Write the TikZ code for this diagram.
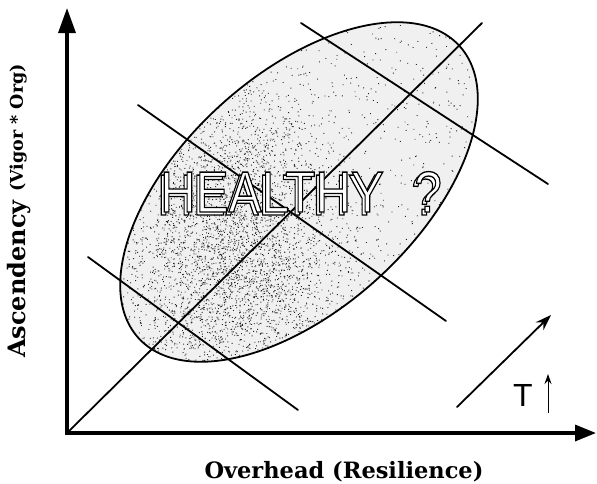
\documentclass[tikz,border=0pt]{standalone}
\usepackage{fontspec}
\newfontfamily\sansf{Liberation Sans}
\newfontfamily\labf{DejaVu Serif}
\usetikzlibrary{arrows.meta}
\newcommand{\outlined}[2]{\special{pdf:literal direct 0 G #1 w 2 Tr}#2\special{pdf:literal direct 0 Tr}}
\begin{document}
\begin{tikzpicture}[x=1pt,y=-1pt,
  axis/.style={line width=3.4pt,{Triangle[length=25pt,width=17pt]}-{Triangle[length=21pt,width=16pt]}},
  ln/.style={line width=1.8pt,line cap=round},
  ell/.style={line width=1.8pt},
  dot/.style={fill=black!85},
  lab/.style={font=\labf\bfseries\fontsize{22.5}{24}\selectfont,inner sep=0pt},
  laby/.style={font=\labf\bfseries\fontsize{24}{26}\selectfont,inner sep=0pt},
  labsmall/.style={font=\labf\bfseries\fontsize{17.5}{20}\selectfont,inner sep=0pt},
  big/.style={font=\sansf\fontsize{58}{60}\selectfont,xscale=0.85,inner sep=0pt},
  tlab/.style={font=\sansf\fontsize{32}{34}\selectfont,inner sep=0pt}]
\useasboundingbox (0,0) rectangle (597,483);
% named points
\coordinate (origin) at (67,433);
\coordinate (ytip) at (67,8);
\coordinate (xtip) at (596,433);
\coordinate (dend) at (482,23);
\coordinate (p1a) at (88,257);
\coordinate (p1b) at (298,410);
\coordinate (p2a) at (138,105);
\coordinate (p2b) at (446,321);
\coordinate (p3a) at (301,23);
\coordinate (p3b) at (548,184);
\coordinate (t1) at (457,407);
\coordinate (t2) at (551,315);
\coordinate (c) at (299,192);
\coordinate (ua) at (548,413);
\coordinate (ub) at (548,374);
% stipple
\pgfmathsetseed{4711}
\begin{scope}
  \clip[rotate around={42.3:(c)}] (c) ellipse [x radius=217pt, y radius=117pt];
  \fill[rotate around={42.3:(c)},black!6] (c) ellipse [x radius=217pt, y radius=117pt];
  \begin{scope}[shift={(c)}, rotate=42.3]
    \foreach \i in {1,...,900}{
      \pgfmathsetmacro\uu{(2*rnd-1)*217}
      \pgfmathsetmacro\vv{(2*rnd-1)*117}
      \fill[dot] (\uu pt,\vv pt) circle (0.65pt);
    }
    \foreach \i in {1,...,2700}{
      \pgfmathsetmacro\uu{-105+(rnd+rnd+rnd-1.5)*120}
      \pgfmathsetmacro\vv{-25+(rnd+rnd+rnd-1.5)*100}
      \fill[dot] (\uu pt,\vv pt) circle (0.65pt);
    }
    \foreach \i in {1,...,1200}{
      \pgfmathsetmacro\uu{-40+(rnd+rnd+rnd-1.5)*100}
      \pgfmathsetmacro\vv{60+(rnd+rnd+rnd-1.5)*80}
      \fill[dot] (\uu pt,\vv pt) circle (0.65pt);
    }
  \end{scope}
\end{scope}
% ellipse
\draw[ell,rotate around={42.3:(c)}] (c) ellipse [x radius=217pt, y radius=117pt];
% lines
\draw[ln] (origin) -- (dend);
\draw[ln] (p1a) -- (p1b);
\draw[ln] (p2a) -- (p2b);
\draw[ln] (p3a) -- (p3b);
% axes
\draw[axis] (ytip) -- (origin) -- (xtip);
% HEALTHY ?
\node[big,anchor=base west,text=white] (shadow) at (157,215) {\outlined{1.3}{HEALTHY\hspace{36pt}?}};
\node[big,anchor=base west,text=white] (healthy) at (160,212) {\outlined{1.3}{HEALTHY\hspace{36pt}?}};
% T arrow
\draw[line width=1.8pt,line cap=round,-{Stealth[length=16pt,width=11pt]}] (t1) -- (t2);
\node[tlab] (T) at (523,395) {T};
\draw[line width=1pt,-{Stealth[length=10pt,width=7pt]}] (ua) -- (ub);
% axis labels
\node[lab,anchor=base] (xlab) at (344,478) {Overhead (Resilience)};
\node[laby,rotate=90,anchor=base] (ylab) at (25,279) {Ascendency};
\node[labsmall,rotate=90,anchor=base] (ylab2) at (23,128) {(Vigor * Org)};
\end{tikzpicture}
\end{document}
